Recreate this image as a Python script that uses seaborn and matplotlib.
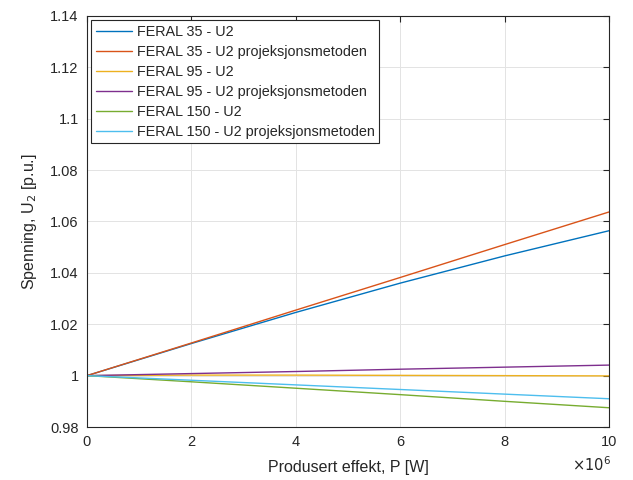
import numpy as np
import pandas as pd
import matplotlib
matplotlib.use("Agg")
import matplotlib.pyplot as plt
import seaborn as sns

# Data
p_mw = [0, 2, 4, 6, 8, 10]  # x 10^6 W
series_names = [
    "FERAL 35 - U2",
    "FERAL 35 - U2 projeksjonsmetoden",
    "FERAL 95 - U2",
    "FERAL 95 - U2 projeksjonsmetoden",
    "FERAL 150 - U2",
    "FERAL 150 - U2 projeksjonsmetoden",
]
u_feral35 = [1.0, 1.0125, 1.0246, 1.0360, 1.0466, 1.0564]
u_feral35_proj = [1.0, 1.0127, 1.0255, 1.0382, 1.0510, 1.0637]
u_feral95 = [1.0, 1.0002, 1.0002, 1.0001, 1.0000, 0.9999]
u_feral95_proj = [1.0, 1.0008, 1.0016, 1.0025, 1.0033, 1.0041]
u_feral150 = [1.0, 0.9976, 0.9951, 0.9926, 0.9900, 0.9875]
u_feral150_proj = [1.0, 0.9982, 0.9964, 0.9946, 0.9928, 0.9910]

colors = ["#0072BD", "#D95319", "#EDB120", "#7E2F8E", "#77AC30", "#4DBEEE"]

all_vals = [u_feral35, u_feral35_proj, u_feral95, u_feral95_proj, u_feral150, u_feral150_proj]
rows = []
for name, vals in zip(series_names, all_vals):
    for x, v in zip(p_mw, vals):
        rows.append({"P": x * 1e6, "U2": v, "Serie": name})
df = pd.DataFrame(rows)

sns.set_theme(style="white")
plt.rcParams["font.family"] = ["Liberation Sans", "DejaVu Sans"]

fig = plt.figure(figsize=(6.33, 4.8), dpi=100)
ax = fig.add_axes([0.1374, 0.1104, 0.8246, 0.8563])

sns.lineplot(data=df, x="P", y="U2", hue="Serie", hue_order=series_names,
             palette=colors, linewidth=1.0, ax=ax, legend=True)

ax.set_xlim(0, 1e7)
ax.set_ylim(0.98, 1.14)
ax.set_xticks(np.arange(0, 1.01e7, 2e6))
ax.set_xticklabels(["0", "2", "4", "6", "8", "10"])
ax.set_yticks(np.arange(0.98, 1.1401, 0.02))
ax.set_yticklabels(["0.98", "1", "1.02", "1.04", "1.06", "1.08", "1.1", "1.12", "1.14"])

ax.grid(True, color="#e3e3e3", linewidth=0.7)
ax.set_axisbelow(True)
for s in ax.spines.values():
    s.set_color("#262626")
    s.set_linewidth(0.8)
    s.set_visible(True)
ax.tick_params(direction="in", length=4, width=0.8, colors="#262626",
               top=True, right=True, labelsize=10.5, pad=6)
for lbl in ax.get_xticklabels() + ax.get_yticklabels():
    lbl.set_color("#262626")

ax.set_xlabel("Produsert effekt, P [W]", fontsize=11.5, color="#262626", labelpad=8)
ax.set_ylabel("Spenning, U$_2$ [p.u.]", fontsize=11.5, color="#262626", labelpad=8)

fig.text(0.903, 0.012, r"$\times10^{6}$", fontsize=10.5, color="#262626",
         ha="left", va="bottom")

leg = ax.legend(loc="upper left", fontsize=10.4, frameon=True, fancybox=False,
                edgecolor="#262626", framealpha=1, borderpad=0.3,
                handlelength=2.55, handletextpad=0.3, labelspacing=0.42,
                borderaxespad=0.3)
leg.get_frame().set_linewidth(0.8)
leg.set_title(None)

fig.savefig("out.png", dpi=100)
